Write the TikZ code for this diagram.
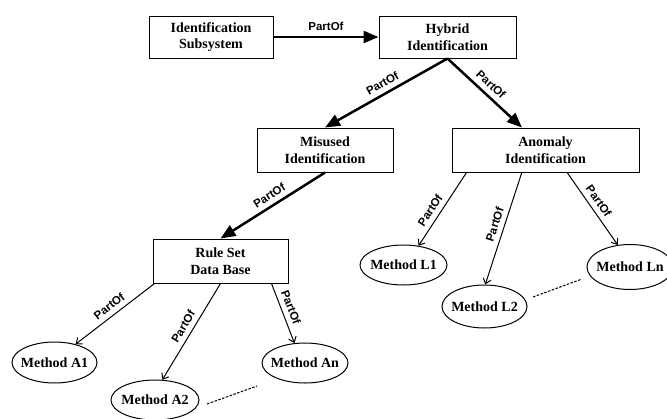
\documentclass[tikz,border=0pt]{standalone}
\usepackage{fontspec}
\setmainfont{Liberation Serif}
\newfontfamily\lblfont{Liberation Sans}
\usetikzlibrary{arrows.meta,calc,shapes.geometric}
\begin{document}
\begin{tikzpicture}[x=1pt,y=-1pt,
  box/.style={draw,line width=1pt,rectangle,inner sep=0pt,align=center,font=\fontsize{14}{16.5}\selectfont\bfseries},
  meth/.style={draw,line width=1pt,ellipse,inner sep=0pt,font=\fontsize{14}{16.5}\selectfont\bfseries},
  bigarrow/.style={line width=2.5pt,-{Triangle[length=15pt,width=12pt]}},
  thinarrow/.style={line width=1pt,-{Straight Barb[length=5pt,width=8pt]}},
  lbl/.style={sloped,anchor=south,inner sep=5pt,font=\lblfont\fontsize{11.5}{13}\selectfont\bfseries},
  dots/.style={line width=1pt,dash pattern=on 2.5pt off 1.5pt}]
\path[fill=white,use as bounding box] (0,0) rectangle (667,418);

\node[box,minimum width=124pt,minimum height=42pt] (is) at (211,37) {Identification\\Subsystem};
\node[box,minimum width=137pt,minimum height=42pt] (hi) at (447.5,37) {Hybrid\\Identification};
\node[box,minimum width=136pt,minimum height=44pt] (mi) at (325,150) {Misused\\Identification};
\node[box,minimum width=187pt,minimum height=44pt] (ai) at (545.5,150) {Anomaly\\Identification};
\node[box,minimum width=135pt,minimum height=44pt] (rs) at (220.5,261) {Rule Set\\Data Base};

\node[meth,minimum width=85pt,minimum height=41pt] (a1) at (54.5,362.5) {\makebox[0pt]{Method A1}};
\node[meth,minimum width=88pt,minimum height=40pt] (a2) at (155,400) {\makebox[0pt]{Method A2}};
\node[meth,minimum width=86pt,minimum height=40pt] (an) at (305,363) {\makebox[0pt]{Method An}};
\node[meth,minimum width=87pt,minimum height=40pt] (l1) at (403.5,265) {\makebox[0pt]{Method L1}};
\node[meth,minimum width=85pt,minimum height=43pt] (l2) at (484.5,306.5) {\makebox[0pt]{Method L2}};
\node[meth,minimum width=86pt,minimum height=45pt] (ln) at (630,267) {\makebox[0pt]{Method Ln}};

\draw[bigarrow] (is.east) -- node[lbl]{PartOf} (hi.west);
\draw[bigarrow] (hi.south) -- node[lbl,pos=0.49]{PartOf} (mi.north);
\draw[bigarrow] (hi.south) -- node[lbl,pos=0.49]{PartOf} ($(ai.north west)!0.375!(ai.north east)$);
\draw[bigarrow] (mi.south) -- node[lbl,pos=0.48]{PartOf} (rs.north);

\draw[thinarrow] ($(rs.south west)!0.015!(rs.south east)$) -- node[lbl,pos=0.5]{PartOf} (a1.41);
\draw[thinarrow] (rs.south) -- node[lbl,pos=0.5]{PartOf} (a2.70);
\draw[thinarrow] ($(rs.south west)!0.875!(rs.south east)$) -- node[lbl,pos=0.46]{PartOf} (an.118);
\draw[thinarrow] ($(ai.south west)!0.08!(ai.south east)$) -- node[lbl,pos=0.59]{PartOf} (l1.52);
\draw[thinarrow] ($(ai.south west)!0.374!(ai.south east)$) -- node[lbl,pos=0.49]{PartOf} (l2.88);
\draw[thinarrow] ($(ai.south west)!0.615!(ai.south east)$) -- node[lbl,pos=0.47]{PartOf} (ln.119);

\coordinate (da1) at (207,404);
\coordinate (da2) at (257,386);
\coordinate (dl1) at (533,297);
\coordinate (dl2) at (582,279);
\draw[dots] (da1) -- (da2);
\draw[dots] (dl1) -- (dl2);
\end{tikzpicture}
\end{document}
